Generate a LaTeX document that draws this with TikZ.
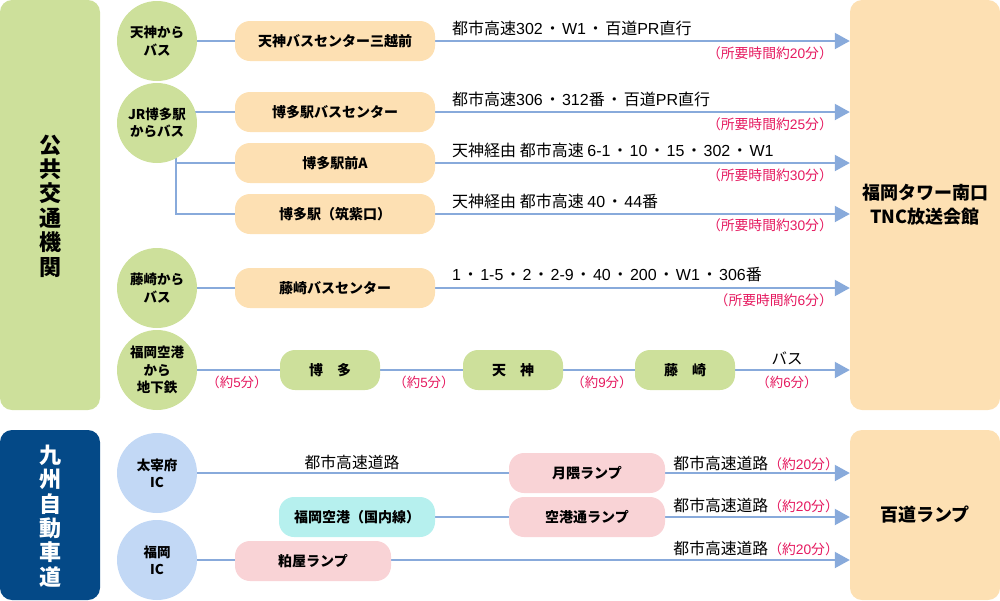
\documentclass[tikz,border=0pt]{standalone}
\usepackage{fontspec}
\setmainfont{Noto Sans CJK JP}
\newfontfamily\latf{Liberation Sans}
\newcommand\latn[1]{{\latf #1}}
\newcommand\ndot{\hspace{1.6pt}・\hspace{1.6pt}}
\usetikzlibrary{arrows.meta,backgrounds}
\definecolor{grn}{HTML}{CDE09B}
\definecolor{org}{HTML}{FDE0B3}
\definecolor{pnk}{HTML}{F9D3D6}
\definecolor{cyn}{HTML}{B6F0EE}
\definecolor{lbl}{HTML}{C2D8F5}
\definecolor{navy}{HTML}{044987}
\definecolor{lnb}{HTML}{88AADB}
\definecolor{redc}{HTML}{E5195F}
\begin{document}
\begin{tikzpicture}[x=1pt,y=-1pt,
  panel/.style={rounded corners=12pt, inner sep=0pt},
  ptext/.style={align=center, inner sep=0pt, font=\bfseries\fontsize{22}{24.4}\selectfont},
  circ/.style={circle, fill=grn, minimum size=80pt, inner sep=0pt, align=center, font=\bfseries\fontsize{13.5}{17.2}\selectfont},
  bcirc/.style={circ, fill=lbl},
  rbox/.style={rounded corners=15pt, minimum width=200pt, minimum height=40pt, inner sep=0pt, fill=org, font=\bfseries\fontsize{14}{17}\selectfont},
  conn/.style={draw=lnb, line width=2pt},
  arr/.style={conn, -{Triangle[length=15pt,width=16pt]}},
  lab/.style={anchor=west, inner sep=0pt, font=\fontsize{16}{18}\selectfont},
  tm/.style={anchor=east, inner sep=0pt, text=redc, font=\fontsize{13.8}{15}\selectfont},
  tmc/.style={inner sep=0pt, text=redc, font=\fontsize{13.4}{15}\selectfont}
]
\useasboundingbox (0,0) rectangle (1000,600);

% side panels
\node[panel, fill=grn, minimum width=100pt, minimum height=410pt] (pub) at (50,205) {};
\node[ptext] (pubt) at (50,206) {公\\共\\交\\通\\機\\関};
\node[panel, fill=navy, minimum width=100pt, minimum height=170pt] (kyu) at (50,515) {};
\node[ptext, text=white] (kyut) at (50,516) {九\\州\\自\\動\\車\\道};

% destination panels
\node[panel, fill=org, minimum width=150pt, minimum height=410pt, align=center, font=\bfseries\fontsize{18}{24}\selectfont] (tower) at (925,205) {福岡タワー南口\\TNC放送会館};
\node[panel, fill=org, minimum width=150pt, minimum height=170pt, font=\bfseries\fontsize{18}{22}\selectfont] (momo) at (925,515) {百道ランプ};

% circles
\node[circ] (c1) at (157,41) {天神から\\バス};
\node[circ] (c2) at (157,123) {JR博多駅\\からバス};
\node[circ] (c3) at (157,288) {藤崎から\\バス};
\node[circ] (c4) at (157,370) {福岡空港\\から\\地下鉄};
\node[bcirc] (c5) at (157,473) {太宰府\\IC};
\node[bcirc] (c6) at (157,560) {福岡\\IC};

% boxes
\node[rbox] (b1) at (335,41) {天神バスセンター三越前};
\node[rbox] (b2) at (335,112) {博多駅バスセンター};
\node[rbox] (b3) at (335,163) {博多駅前A};
\node[rbox] (b4) at (335,214) {博多駅（筑紫口）};
\node[rbox] (b5) at (335,288) {藤崎バスセンター};
\node[rbox, fill=grn, minimum width=100pt] (s1) at (330,370) {博　多};
\node[rbox, fill=grn, minimum width=100pt] (s2) at (513,370) {天　神};
\node[rbox, fill=grn, minimum width=100pt] (s3) at (685,370) {藤　崎};
\node[rbox, fill=pnk, minimum width=156pt] (k1) at (587,473) {月隈ランプ};
\node[rbox, fill=pnk, minimum width=156pt] (k2) at (587,517) {空港通ランプ};
\node[rbox, fill=cyn, minimum width=156pt] (k3) at (357,517) {福岡空港（国内線）};
\node[rbox, fill=pnk, minimum width=156pt] (k4) at (313,561) {粕屋ランプ};

\coordinate (br) at (176,123);

\begin{scope}[on background layer]
  \draw[conn] (c1.center) -- (b1.west);
  \draw[arr] (b1.east) -- (b1.east -| tower.west);
  \draw[conn] (c2.center |- b2.west) -- (b2.west);
  \draw[arr] (b2.east) -- (b2.east -| tower.west);
  \draw[conn] (br) |- (b3.west);
  \draw[conn] (br) |- (b4.west);
  \draw[arr] (b3.east) -- (b3.east -| tower.west);
  \draw[arr] (b4.east) -- (b4.east -| tower.west);
  \draw[conn] (c3.center) -- (b5.west);
  \draw[arr] (b5.east) -- (b5.east -| tower.west);
  \draw[conn] (c4.center) -- (s1.west);
  \draw[conn] (s1.east) -- (s2.west);
  \draw[conn] (s2.east) -- (s3.west);
  \draw[arr] (s3.east) -- (s3.east -| tower.west);
  \draw[conn] (c5.center) -- (k1.west);
  \draw[arr] (k1.east) -- (k1.east -| momo.west);
  \draw[conn] (k3.east) -- (k2.west);
  \draw[arr] (k2.east) -- (k2.east -| momo.west);
  \draw[conn] (c6.center) -- (c6.center -| k4.west);
  \draw[arr] (k4.east |- c6.center) -- (c6.center -| momo.west);
\end{scope}

% labels
\node[lab] (l1) at (452,28) {都市高速\latn{302}\ndot\latn{W1}\ndot 百道\latn{PR}直行};
\node[tm] (t1) at (833,53) {（所要時間約\latn{20}分）};
\node[lab] (l2) at (452,99) {都市高速\latn{306}\ndot\latn{312}番\ndot 百道\latn{PR}直行};
\node[tm] (t2) at (833,124) {（所要時間約\latn{25}分）};
\node[lab] (l3) at (452,150) {天神経由 都市高速 \latn{6-1}\ndot\latn{10}\ndot\latn{15}\ndot\latn{302}\ndot\latn{W1}};
\node[tm] (t3) at (833,175) {（所要時間約\latn{30}分）};
\node[lab] (l4) at (452,201) {天神経由 都市高速 \latn{40}\ndot\latn{44}番};
\node[tm] (t4) at (833,225) {（所要時間約\latn{30}分）};
\node[lab] (l5) at (452,275) {\latn{1}\ndot\latn{1-5}\ndot\latn{2}\ndot\latn{2-9}\ndot\latn{40}\ndot\latn{200}\ndot\latn{W1}\ndot\latn{306}番};
\node[tm] (t5) at (833,300) {（所要時間約\latn{6}分）};

\node[tmc] (m1) at (237,382) {（約\latn{5}分）};
\node[tmc] (m2) at (424,382) {（約\latn{5}分）};
\node[tmc] (m3) at (602,382) {（約\latn{9}分）};
\node[inner sep=0pt, font=\fontsize{15.5}{18}\selectfont] (m4) at (787,358) {バス};
\node[tmc] (m5) at (787,382) {（約\latn{6}分）};

\node[inner sep=0pt, font=\fontsize{15.8}{18}\selectfont] (h0) at (352,462) {都市高速道路};
\node[lab, anchor=east, font=\fontsize{15.8}{18}\selectfont] (h1) at (839,463) {都市高速道路{\fontsize{13.8}{15}\selectfont\color{redc}（約\latn{20}分）}};
\node[lab, anchor=east, font=\fontsize{15.8}{18}\selectfont] (h2) at (839,505) {都市高速道路{\fontsize{13.8}{15}\selectfont\color{redc}（約\latn{20}分）}};
\node[lab, anchor=east, font=\fontsize{15.8}{18}\selectfont] (h3) at (839,548) {都市高速道路{\fontsize{13.8}{15}\selectfont\color{redc}（約\latn{20}分）}};
\end{tikzpicture}
\end{document}
